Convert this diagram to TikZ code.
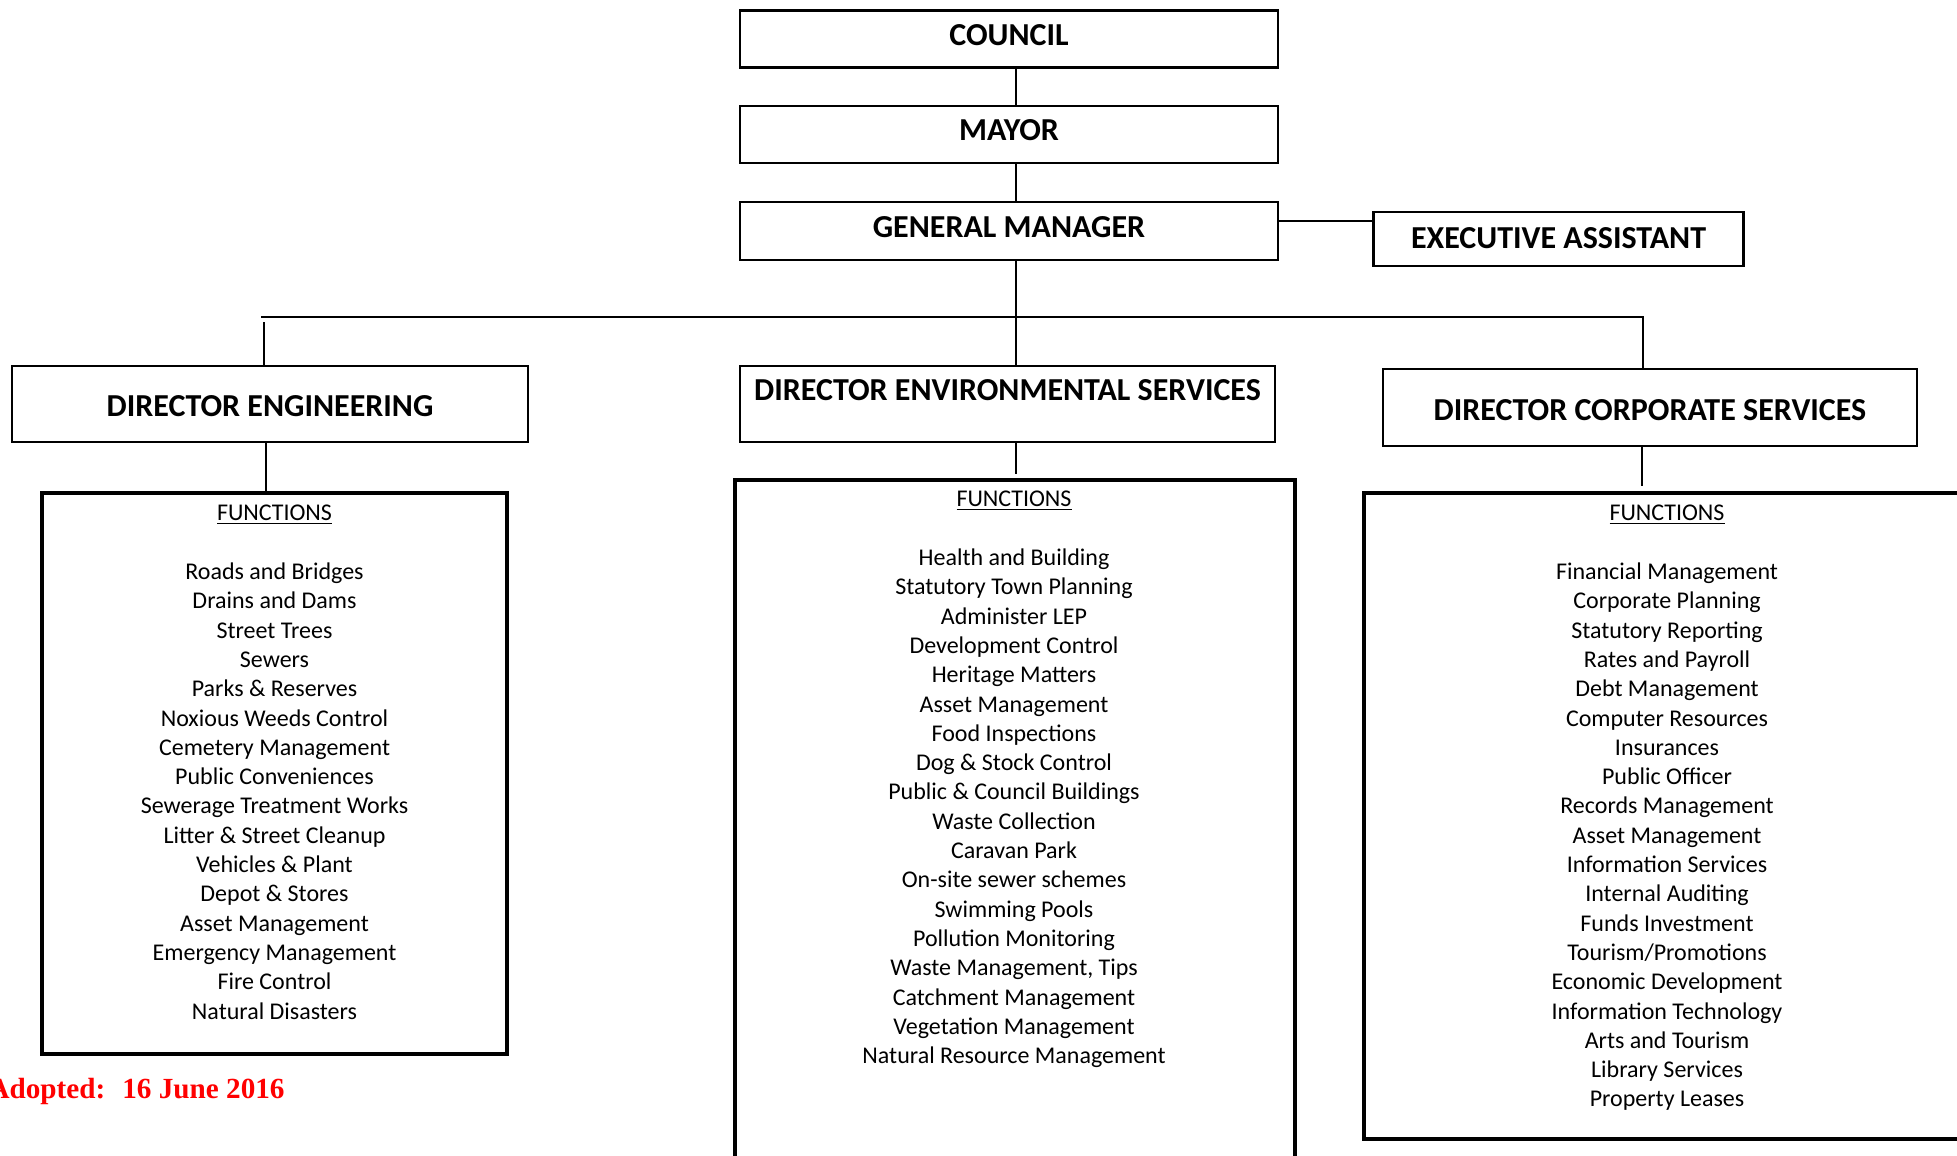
\documentclass[tikz,border=0pt]{standalone}
\usepackage{fontspec}
\setmainfont{Carlito}
\newfontfamily\timesfont{Liberation Serif}
\usetikzlibrary{calc}
\begin{document}
\begin{tikzpicture}[x=0.5pt,y=-0.5pt,
  hbox/.style={draw, line width=1.35pt, inner sep=0, font=\bfseries\fontsize{16}{19}\selectfont},
  topbox/.style={hbox, text height=10.3pt, text depth=4pt},
  dirbox/.style={hbox, text height=12.8pt, text depth=0pt},
  htext/.style={inner sep=0, font=\bfseries\fontsize{16}{19}\selectfont},
  fbox/.style={draw, line width=2pt, inner sep=0},
  conn/.style={line width=1.2pt},
  listtext/.style={align=center, inner sep=0, anchor=north, font=\fontsize{12}{14.65}\selectfont}]
\useasboundingbox (0,0) rectangle (1957,1155);
\clip (0,0) rectangle (1957,1155);

% top chain
\node[topbox, minimum width=269pt, minimum height=28.5pt] (council) at (1009,39) {COUNCIL};
\node[topbox, minimum width=269pt, minimum height=28.5pt] (mayor) at (1009,134.5) {MAYOR};
\node[topbox, minimum width=269pt, minimum height=29pt] (gm) at (1009,231) {GENERAL MANAGER};
\node[hbox, text height=10.3pt, text depth=1pt, minimum width=185pt, minimum height=27pt] (ea) at (1558.5,239) {EXECUTIVE ASSISTANT};

% directors
\node[dirbox, minimum width=258pt, minimum height=38pt] (de) at (270,404) {DIRECTOR ENGINEERING};
\node[hbox, minimum width=267.5pt, minimum height=38pt] (des) at (1007.5,404) {};
\node[htext] (destext) at (1007.5,390) {DIRECTOR ENVIRONMENTAL SERVICES};
\node[dirbox, minimum width=267pt, minimum height=38.5pt] (dcs) at (1650,407.5) {DIRECTOR CORPORATE SERVICES};

% function boxes
\node[fbox, minimum width=232.5pt, minimum height=280.5pt] (def) at (274.5,773.5) {};
\node[fbox, minimum width=280pt, minimum height=347.5pt] (desf) at (1015,827.5) {};
\node[fbox, minimum width=305.5pt, minimum height=323pt] (dcsf) at (1669.5,816) {};

% function lists
\node[listtext] (defl) at (274.5,500) {\strut\underline{FUNCTIONS}\\[14.65pt]
Roads and Bridges\\ Drains and Dams\\ Street Trees\\ Sewers\\ Parks \& Reserves\\
Noxious Weeds Control\\ Cemetery Management\\ Public Conveniences\\ Sewerage Treatment Works\\
Litter \& Street Cleanup\\ Vehicles \& Plant\\ Depot \& Stores\\ Asset Management\\
Emergency Management\\ Fire Control\\ Natural Disasters};

\node[listtext] (desfl) at (1014,486) {\strut\underline{FUNCTIONS}\\[14.65pt]
Health and Building\\ Statutory Town Planning\\ Administer LEP\\ Development Control\\
Heritage Matters\\ Asset Management\\ Food Inspections\\ Dog \& Stock Control\\
Public \& Council Buildings\\ Waste Collection\\ Caravan Park\\ On-site sewer schemes\\
Swimming Pools\\ Pollution Monitoring\\ Waste Management, Tips\\ Catchment Management\\
Vegetation Management\\ Natural Resource Management};

\node[listtext] (dcsfl) at (1667,500) {\strut\underline{FUNCTIONS}\\[14.65pt]
Financial Management\\ Corporate Planning\\ Statutory Reporting\\ Rates and Payroll\\
Debt Management\\ Computer Resources\\ Insurances\\ Public Officer\\ Records Management\\
Asset Management\\ Information Services\\ Internal Auditing\\ Funds Investment\\
Tourism/Promotions\\ Economic Development\\ Information Technology\\ Arts and Tourism\\
Library Services\\ Property Leases};

% adopted note
\node[anchor=base east, inner sep=0, text={rgb,255:red,255;green,0;blue,0},
  font=\timesfont\bfseries\fontsize{14.6}{17}\selectfont] (adopted) at (285,1098) {Adopted:\hspace{8.5pt}16 June 2016};

% connectors
\coordinate (sp) at (1016,0);
\draw[conn] (council.south -| sp) -- (mayor.north -| sp);
\draw[conn] (mayor.south -| sp) -- (gm.north -| sp);
\draw[conn] (gm.south -| sp) -- (des.north -| sp);
\coordinate (eay) at (0,221);
\draw[conn] (gm.east |- eay) -- (ea.west |- eay);
\coordinate (busL) at (261,317);
\coordinate (busR) at (1643,317);
\draw[conn] (busL) -- (busR) -- (dcs.north -| busR);
\coordinate (stubtop) at (264,322);
\draw[conn] (stubtop) -- (de.north -| stubtop);
\coordinate (dex) at (266,0);
\draw[conn] (de.south -| dex) -- (def.north -| dex);
\coordinate (desend) at (1016,474);
\draw[conn] (des.south -| desend) -- (desend);
\coordinate (dcsend) at (1642,486);
\draw[conn] (dcs.south -| dcsend) -- (dcsend);
\end{tikzpicture}
\end{document}
